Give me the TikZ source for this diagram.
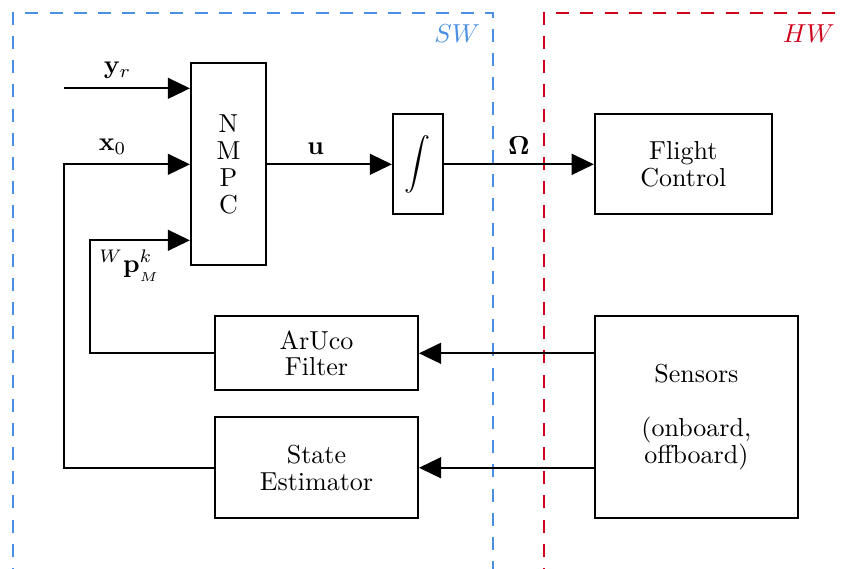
\documentclass[tikz,border=0pt]{standalone}
\usetikzlibrary{arrows.meta}
\definecolor{swblue}{HTML}{4A90E2}
\definecolor{hwred}{HTML}{D0021B}

\begin{document}
\begin{tikzpicture}[
        block/.style = {draw, line width = 0.8pt, align = center, inner sep = 0pt,
                        font = \fontsize{10}{10.3}\selectfont},
        sig/.style = {line width = 0.8pt, -{Triangle[length = 8.5pt, width = 8pt]}},
        region/.style = {line width = 0.7pt, dash pattern = on 5pt off 4.3pt}
    ]
                \useasboundingbox (0, 0) rectangle (11.38, 7.68);
                \clip (0, 0) rectangle (11.38, 7.68);

                % software / hardware
                \draw [region, draw = swblue] (0.176, -0.5) -- (0.176, 7.505) -- (6.662, 7.505) -- (6.662, -0.5);
                \draw [region, draw = hwred] (7.351, -0.5) -- (7.351, 7.505) -- (12, 7.505);
                \node [swblue] (sw) at (6.18, 7.23) {$SW$};
                \node [hwred] (hw) at (10.93, 7.23) {$HW$};

                \node [block, minimum width = 1.014cm, minimum height = 2.73cm] (nmpc) at (3.088, 5.459) {N\\M\\P\\C};
                \node [block, minimum width = 0.676cm, minimum height = 1.351cm] (integ) at (5.649, 5.459) {\large $\displaystyle\int$};
                \node [block, minimum width = 2.392cm, minimum height = 1.351cm] (flight) at (9.236, 5.459) {Flight\\Control};
                \node [block, minimum width = 2.743cm, minimum height = 1cm] (aruco) at (4.277, 2.905) {ArUco\\Filter};
                \node [block, minimum width = 2.743cm, minimum height = 1.365cm] (estim) at (4.277, 1.358) {State\\Estimator};
                \node [block, minimum width = 2.743cm, minimum height = 2.73cm] (sensors) at (9.412, 2.041) {Sensors\\ \\(onboard,\\offboard)};

                \coordinate (yr) at (0.865, 6.486);
                \coordinate (xbend) at (0.865, 5.459);
                \coordinate (pbend) at (1.216, 4.432);

                \draw [sig] (yr) -- node [above, pos = 0.425] {$\mathbf{y}_r$} (yr -| nmpc.west);
                \draw [sig] (estim.west) -| (xbend) -- node [above, pos = 0.386] {$\mathbf{x}_0$} (nmpc.west);
                \draw [sig] (aruco.west) -| (pbend) -- node [below, pos = 0.4] {${}^{W}\mathbf{p}^{k}_{_M}$} (pbend -| nmpc.west);

                \draw [sig] (nmpc.east) -- node [above, pos = 0.39] {$\mathbf{u}$} (integ.west);
                \draw [sig] (integ.east) -- node [above] {$\mathbf{\Omega}$} (flight.west);

                \draw [sig] (sensors.west |- aruco.east) -- (aruco.east);
                \draw [sig] (sensors.west |- estim.east) -- (estim.east);
            \end{tikzpicture}
\end{document}
